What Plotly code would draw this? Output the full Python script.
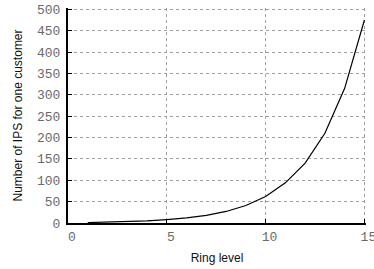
import plotly.graph_objects as go

ring_level = [1, 2, 3, 4, 5, 6, 7, 8, 9, 10, 11, 12, 13, 14, 15]
ips_per_customer = [1, 2, 3, 5, 8, 12, 18, 27, 41, 62, 94, 140, 210, 315, 475]

x_ticks = [0, 5, 10, 15]
y_ticks = [0, 50, 100, 150, 200, 250, 300, 350, 400, 450, 500]

tick_font = dict(family="Liberation Mono", size=13, color="#6a6a6a")
title_font = dict(family="Liberation Sans", size=12, color="#111111")

fig = go.Figure()
fig.add_trace(go.Scatter(x=ring_level, y=ips_per_customer, mode="lines",
                         line=dict(color="black", width=1.2), showlegend=False))

fig.update_layout(
    width=374, height=269, autosize=False,
    margin=dict(l=67.5, r=7.9, t=8.2, b=46.3, autoexpand=False),
    paper_bgcolor="white", plot_bgcolor="white",
    xaxis=dict(range=[0, 15.08], tickvals=x_ticks, ticktext=[str(v) for v in x_ticks],
               showgrid=True, gridcolor="#a0a0a0", griddash="dot", gridwidth=1,
               showline=True, linecolor="black", linewidth=2,
               ticks="inside", ticklen=4, tickcolor="black",
               tickfont=tick_font, ticklabelshift=4, automargin=True,
               ticklabeloverflow="allow",
               zeroline=False,
               title=dict(text="Ring level", font=title_font, standoff=10)),
    yaxis=dict(range=[0, 503], tickvals=y_ticks, ticktext=[str(v) for v in y_ticks],
               showgrid=True, gridcolor="#a0a0a0", griddash="dot", gridwidth=1,
               showline=True, linecolor="black", linewidth=2,
               ticks="inside", ticklen=4, tickcolor="black",
               tickfont=tick_font, ticklabelstandoff=3, automargin=True,
               ticklabeloverflow="allow",
               zeroline=False,
               title=dict(text="Number of IPS for one customer", font=title_font, standoff=12)),
)

fig.write_html("out.html", config={"displayModeBar": False},
               post_script="document.body.style.margin='0';")
